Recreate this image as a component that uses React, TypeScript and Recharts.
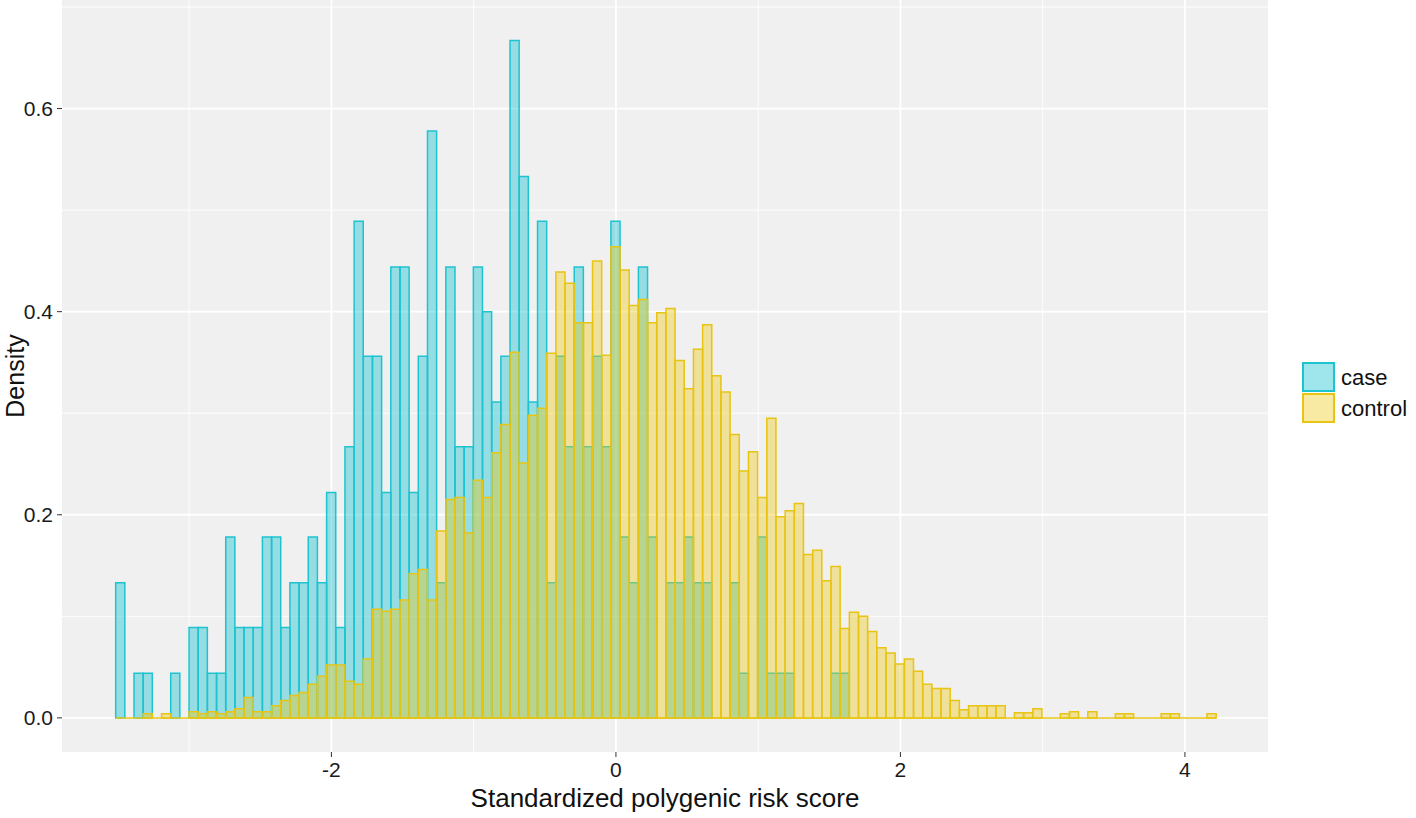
import React from "react";
import {
  ComposedChart,
  Bar,
  XAxis,
  YAxis,
  CartesianGrid,
  Legend,
  ReferenceLine,
} from "recharts";

// histogram bins (shared by both groups)
const BIN_START = -3.5166;
const BIN_WIDTH = 0.06447;

// density per bin
const caseDensity = [
  0.133, 0, 0.044, 0.044, 0, 0, 0.044, 0, 0.089, 0.089,
  0.044, 0.044, 0.178, 0.089, 0.089, 0.089, 0.178, 0.178, 0.089, 0.133,
  0.133, 0.178, 0.133, 0.222, 0.089, 0.267, 0.489, 0.356, 0.356, 0.222,
  0.444, 0.444, 0.222, 0.356, 0.578, 0.133, 0.444, 0.267, 0.267, 0.444,
  0.4, 0.311, 0.356, 0.667, 0.533, 0.311, 0.489, 0.133, 0.356, 0.267,
  0.444, 0.267, 0.356, 0.267, 0.489, 0.178, 0.133, 0.444, 0.178, 0,
  0.133, 0.133, 0.178, 0.133, 0.133, 0, 0, 0.133, 0.044, 0,
  0.178, 0.044, 0.044, 0.044, 0, 0, 0, 0, 0.044, 0.044,
  0, 0, 0, 0, 0, 0, 0, 0, 0, 0,
  0, 0, 0, 0, 0, 0, 0, 0, 0, 0,
  0, 0, 0, 0, 0, 0, 0, 0, 0, 0,
  0, 0, 0, 0, 0, 0, 0, 0, 0, 0,
];

const controlDensity = [
  0, 0, 0, 0.004, 0, 0.004, 0, 0, 0.006, 0.004,
  0.006, 0.004, 0.006, 0.009, 0.02, 0.006, 0.006, 0.012, 0.017, 0.022,
  0.025, 0.033, 0.041, 0.052, 0.052, 0.036, 0.033, 0.058, 0.107, 0.105,
  0.107, 0.116, 0.142, 0.146, 0.116, 0.184, 0.215, 0.217, 0.182, 0.234,
  0.217, 0.261, 0.289, 0.36, 0.251, 0.298, 0.305, 0.359, 0.439, 0.428,
  0.389, 0.389, 0.45, 0.357, 0.464, 0.441, 0.406, 0.412, 0.389, 0.399,
  0.403, 0.352, 0.324, 0.363, 0.387, 0.337, 0.321, 0.279, 0.243, 0.262,
  0.217, 0.295, 0.198, 0.204, 0.211, 0.161, 0.165, 0.135, 0.149, 0.088,
  0.104, 0.1, 0.085, 0.069, 0.064, 0.053, 0.058, 0.046, 0.033, 0.029,
  0.029, 0.017, 0.008, 0.012, 0.012, 0.012, 0.012, 0, 0.005, 0.005,
  0.009, 0, 0, 0.004, 0.006, 0, 0.006, 0, 0, 0.004,
  0.004, 0, 0, 0, 0.004, 0.004, 0, 0, 0, 0.004,
];

const xTicks = [-2, 0, 2, 4];
const xMinor = [-3, -1, 1, 3];
const yTicks = [0, 0.2, 0.4, 0.6];
const yMinor = [0.1, 0.3, 0.5, 0.7];

const X_DOMAIN: [number, number] = [-3.894, 4.584];
const Y_DOMAIN: [number, number] = [-0.0336, 0.7069];

const groups = [
  { key: "case", label: "case", fill: "#00BCCB", stroke: "#1EC3D0", opacity: 0.38 },
  { key: "control", label: "control", fill: "#EDC81A", stroke: "#E8C413", opacity: 0.4 },
];

const W = 1416;
const H = 818;
const MARGIN = { top: 0, right: 148, bottom: 0, left: 0 };
const Y_AXIS_W = 62;
const X_AXIS_H = 66;

const data = caseDensity.map((c, i) => ({
  x: BIN_START + (i + 0.5) * BIN_WIDTH,
  case: c,
  control: controlDensity[i],
}));

const plotW = W - MARGIN.left - MARGIN.right - Y_AXIS_W;
const barPx = ((plotW * BIN_WIDTH) / (X_DOMAIN[1] - X_DOMAIN[0])) * 0.995;

const FONT = '"Liberation Sans", Arial, sans-serif';

function LegendBox() {
  return (
    <div style={{ fontFamily: FONT }}>
      {groups.map((g) => (
        <div key={g.key} style={{ display: "flex", alignItems: "center", height: 31 }}>
          <svg width={34} height={31}>
            <rect x={1} y={1} width={31} height={28} fill={g.fill} fillOpacity={g.opacity} stroke={g.stroke} strokeWidth={2} />
          </svg>
          <span style={{ fontSize: 22, color: "#111", marginLeft: 5 }}>{g.label}</span>
        </div>
      ))}
    </div>
  );
}

export default function App() {
  const yMid = (H - X_AXIS_H) / 2;
  return (
    <div style={{ position: "absolute", left: 0, top: 0, width: W, height: H, background: "#fff", fontFamily: FONT }}>
      <ComposedChart width={W} height={H} data={data} margin={MARGIN} barGap={0} barCategoryGap={0}>
        <CartesianGrid
          xAxisId="main"
          fill="#F0F0F0"
          stroke="#FFFFFF"
          strokeWidth={0.9}
          horizontalValues={yMinor}
          verticalValues={xMinor}
        />
        <CartesianGrid
          xAxisId="main"
          stroke="#FFFFFF"
          strokeWidth={1.8}
          horizontalValues={yTicks}
          verticalValues={xTicks}
        />
        <XAxis
          xAxisId="main"
          dataKey="x"
          type="number"
          domain={X_DOMAIN}
          ticks={xTicks}
          allowDataOverflow
          height={X_AXIS_H}
          axisLine={false}
          tickSize={5}
          tickMargin={5}
          tickLine={{ stroke: "#333" }}
          tick={{ fontSize: 21, fill: "#1A1A1A" }}
          label={{
            content: () => (
              <text x={MARGIN.left + Y_AXIS_W + plotW / 2} y={807} textAnchor="middle" fontSize={26} fill="#111">
                Standardized polygenic risk score
              </text>
            ),
          }}
        />
        <XAxis xAxisId="ov" dataKey="x" type="number" domain={X_DOMAIN} allowDataOverflow hide />
        <YAxis
          type="number"
          domain={Y_DOMAIN}
          ticks={yTicks}
          allowDataOverflow
          width={Y_AXIS_W}
          axisLine={false}
          tickSize={5}
          tickMargin={4}
          tickLine={{ stroke: "#333" }}
          tick={{ fontSize: 21, fill: "#1A1A1A" }}
          tickFormatter={(v: number) => v.toFixed(1)}
          label={{
            content: () => (
              <text x={24} y={yMid} textAnchor="middle" fontSize={25} fill="#111" transform={`rotate(-90 24 ${yMid})`}>
                Density
              </text>
            ),
          }}
        />
        <Bar
          xAxisId="main"
          dataKey="case"
          fill={groups[0].fill}
          fillOpacity={groups[0].opacity}
          stroke={groups[0].stroke}
          strokeWidth={1.5}
          barSize={barPx}
          isAnimationActive={false}
        />
        <Bar
          xAxisId="ov"
          dataKey="control"
          fill={groups[1].fill}
          fillOpacity={groups[1].opacity}
          stroke={groups[1].stroke}
          strokeWidth={1.5}
          barSize={barPx}
          isAnimationActive={false}
        />
        <ReferenceLine
          xAxisId="main"
          segment={[
            { x: BIN_START, y: 0 },
            { x: BIN_START + caseDensity.length * BIN_WIDTH, y: 0 },
          ]}
          stroke={groups[1].stroke}
          strokeWidth={1.5}
        />
        <Legend
          layout="horizontal"
          verticalAlign="middle"
          align="center"
          wrapperStyle={{ left: 1302, top: 362, width: 114 }}
          content={() => <LegendBox />}
        />
      </ComposedChart>
    </div>
  );
}
